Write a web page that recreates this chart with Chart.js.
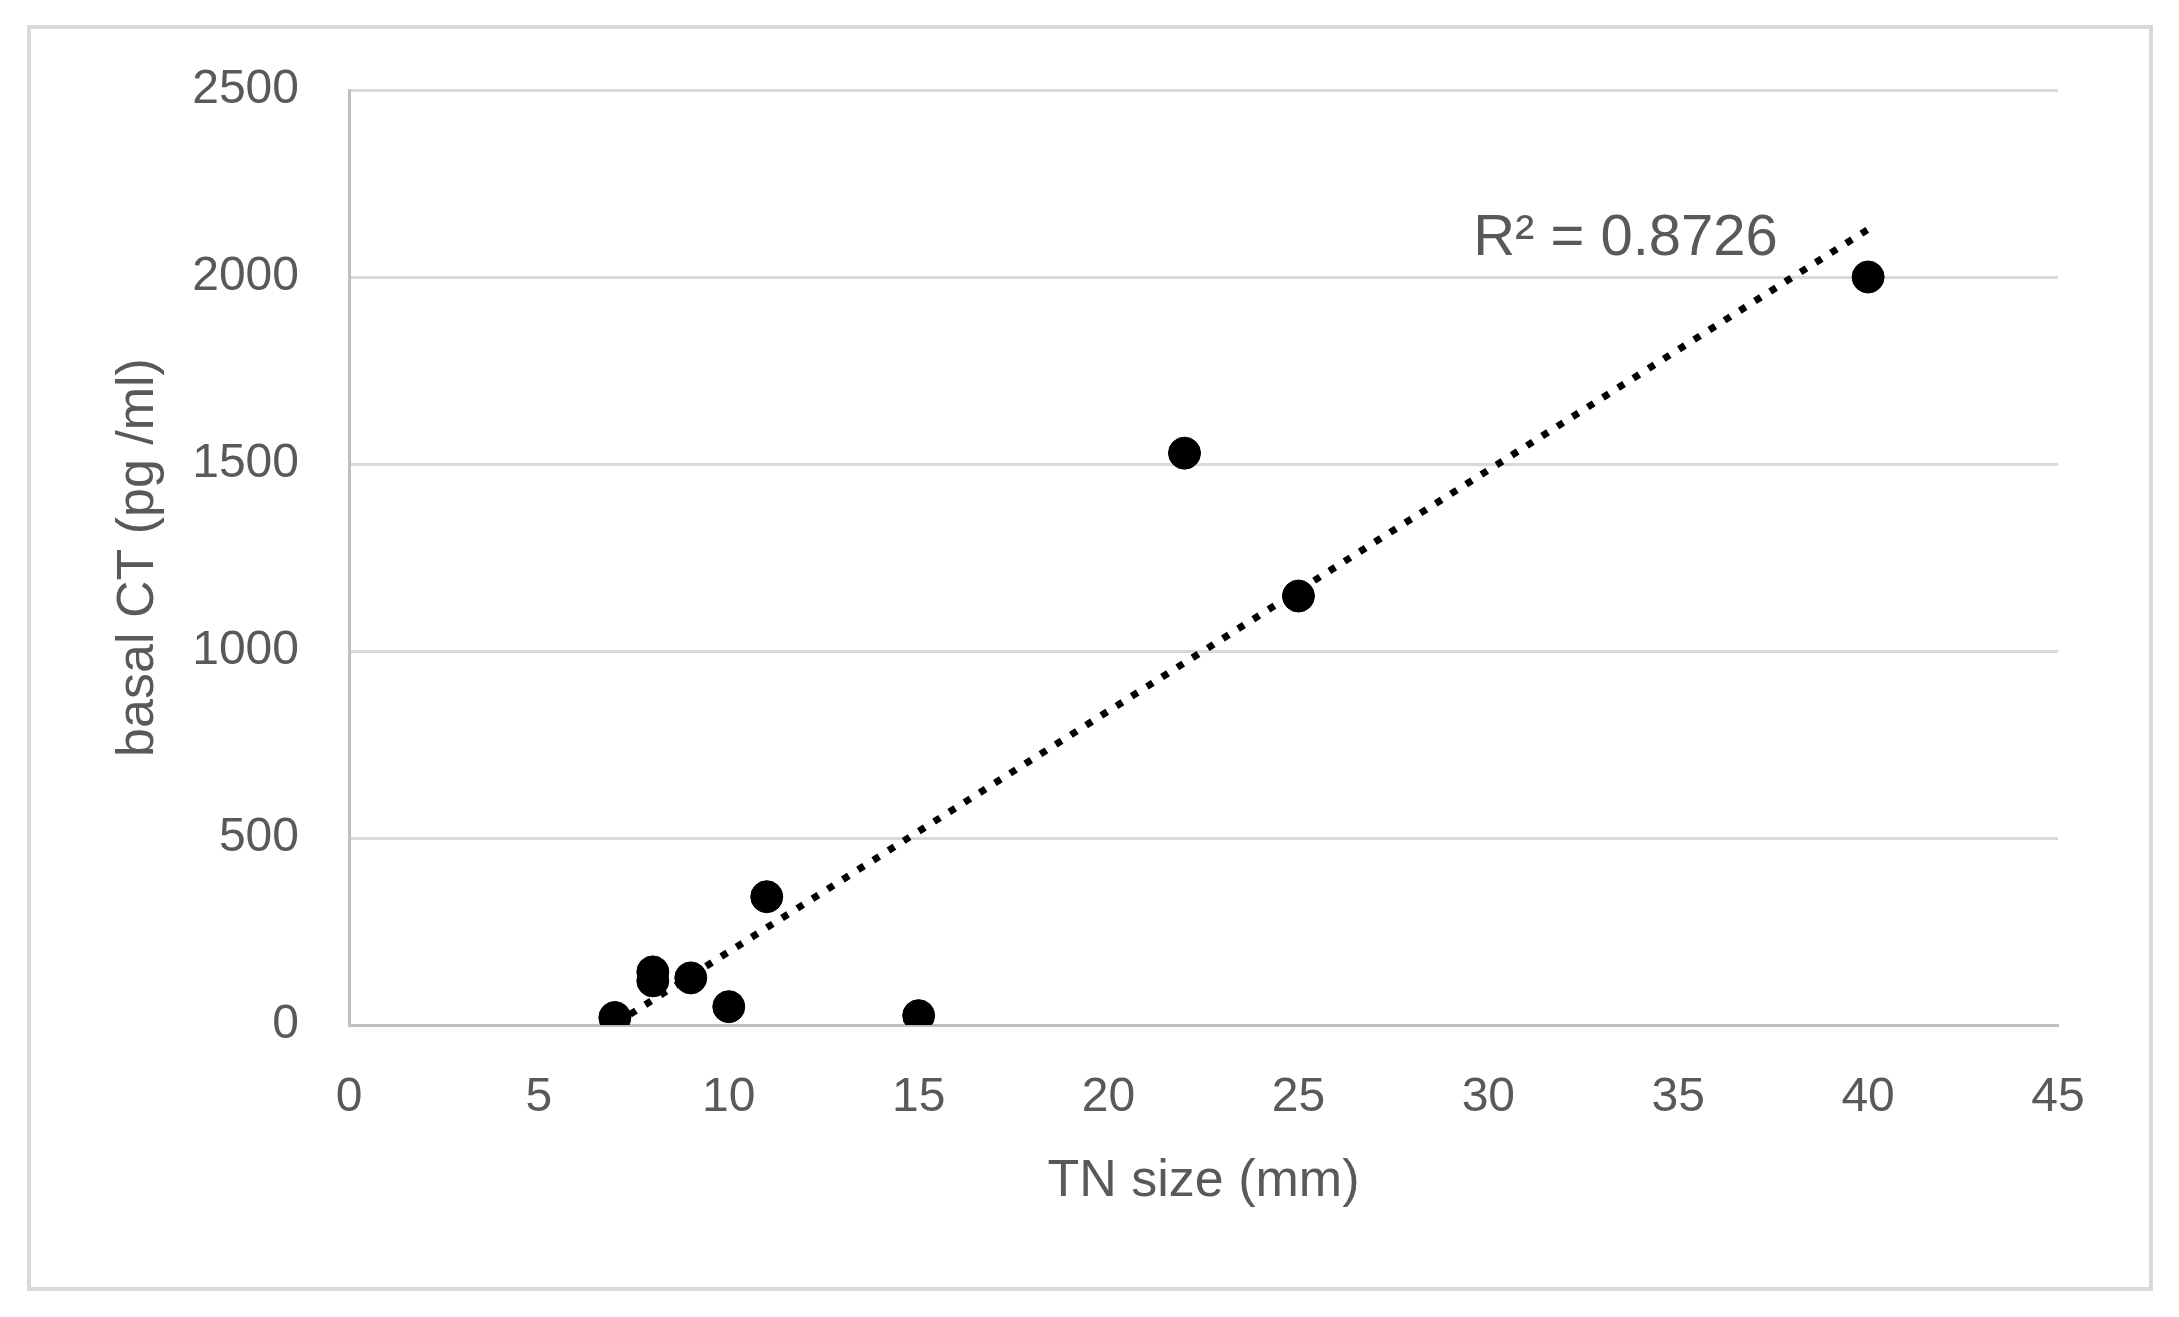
<!DOCTYPE html>
<html>
<head>
<meta charset="utf-8">
<script src="https://cdn.jsdelivr.net/npm/chart.js@4.4.1/dist/chart.umd.min.js"></script>
<style>
  body { margin: 0; background: #fff; }
  #wrap { width: 2179px; height: 1317px; }
</style>
</head>
<body>
<div id="wrap"><canvas id="grafico" width="2179" height="1317"></canvas></div>
<script>
// valores
let tnSize = [7, 8, 8, 9, 10, 11, 15, 22, 25, 40];
let basalCT = [20, 142, 118, 126, 49, 343, 25, 1529, 1147, 2000];
let xTicks = [0, 5, 10, 15, 20, 25, 30, 35, 40, 45];
let yTicks = [0, 500, 1000, 1500, 2000, 2500];
let r2Text = 'R² = 0.8726';

let gris = '#595959';
let fuente = 'Liberation Sans, Arial, sans-serif';

let puntos = tnSize.map((x, i) => ({x: x, y: basalCT[i]}));

// linea de tendencia (minimos cuadrados)
let n = tnSize.length;
let mx = tnSize.reduce((a, b) => a + b, 0) / n;
let my = basalCT.reduce((a, b) => a + b, 0) / n;
let sxy = 0, sxx = 0;
for (let i = 0; i < n; i++) {
  sxy += (tnSize[i] - mx) * (basalCT[i] - my);
  sxx += (tnSize[i] - mx) * (tnSize[i] - mx);
}
let pendiente = sxy / sxx;
let corte = my - pendiente * mx;
let xMin = Math.min(...tnSize), xMax = Math.max(...tnSize);
let tendencia = [
  {x: xMin, y: corte + pendiente * xMin},
  {x: xMax, y: corte + pendiente * xMax}
];

let marco = {
  id: 'marco',
  beforeDraw(chart) {
    let ctx = chart.ctx;
    ctx.save();
    ctx.fillStyle = '#fff';
    ctx.fillRect(0, 0, chart.width, chart.height);
    ctx.strokeStyle = '#d9d9d9';
    ctx.lineWidth = 4;
    ctx.strokeRect(29, 27, 2122, 1262);
    ctx.restore();
  }
};

let etiquetaR2 = {
  id: 'etiquetaR2',
  afterDatasetsDraw(chart) {
    let ctx = chart.ctx;
    let xs = chart.scales.x, ys = chart.scales.y;
    ctx.save();
    ctx.font = '58px ' + fuente;
    ctx.fillStyle = gris;
    ctx.textAlign = 'left';
    ctx.textBaseline = 'alphabetic';
    ctx.fillText(r2Text, xs.getPixelForValue(29.6), ys.getPixelForValue(2059));
    ctx.restore();
  }
};

let chart = new Chart(document.getElementById('grafico').getContext('2d'), {
  type: 'scatter',
  data: {
    datasets: [{
      label: 'basal CT',
      data: puntos,
      backgroundColor: '#000',
      borderColor: '#000',
      pointRadius: 16,
      pointHoverRadius: 16,
      order: 2
    }, {
      type: 'line',
      label: 'tendencia',
      data: tendencia,
      borderColor: '#000',
      borderWidth: 7,
      borderDash: [7, 11],
      pointRadius: 0,
      fill: false,
      order: 1
    }]
  },
  options: {
    responsive: false,
    animation: false,
    devicePixelRatio: 1,
    layout: { padding: { left: 0, top: 90, right: 121, bottom: 0 } },
    plugins: {
      legend: { display: false },
      tooltip: { enabled: false }
    },
    scales: {
      x: {
        type: 'linear',
        min: 0,
        max: 45,
        afterBuildTicks: s => { s.ticks = xTicks.map(v => ({value: v})); },
        afterFit: s => { s.height = 292; },
        grid: { display: false, drawTicks: false },
        border: { display: true, color: '#bfbfbf', width: 3 },
        ticks: {
          color: gris,
          font: { size: 48, family: fuente },
          padding: 44,
          maxRotation: 0,
          callback: v => String(v)
        },
        title: {
          display: true,
          text: 'TN size (mm)',
          color: gris,
          font: { size: 52, family: fuente },
          padding: { top: 0, bottom: 104 }
        }
      },
      y: {
        type: 'linear',
        min: 0,
        max: 2500,
        afterBuildTicks: s => { s.ticks = yTicks.map(v => ({value: v})); },
        afterFit: s => { s.width = 349; },
        grid: {
          color: ctx => ctx.tick && ctx.tick.value === 0 ? '#bfbfbf' : '#d9d9d9',
          lineWidth: 3,
          drawTicks: false
        },
        border: { display: true, color: '#bfbfbf', width: 3 },
        ticks: {
          color: gris,
          font: { size: 48, family: fuente },
          padding: 50,
          callback: v => String(v)
        },
        title: {
          display: true,
          text: 'basal CT (pg /ml)',
          color: gris,
          font: { size: 52, family: fuente },
          padding: { top: 107, bottom: 0 }
        }
      }
    }
  },
  plugins: [marco, etiquetaR2]
});
</script>
</body>
</html>
